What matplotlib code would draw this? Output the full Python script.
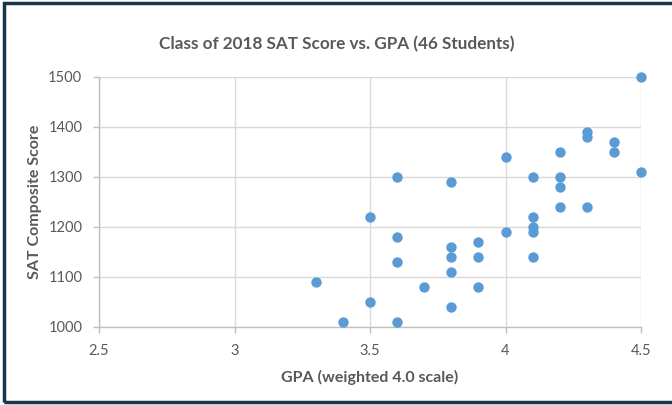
import matplotlib
matplotlib.use("Agg")
import matplotlib.pyplot as plt
from matplotlib.patches import Rectangle

gpa = [4.5, 4.3, 4.3, 4.4, 4.4, 4.2, 4.0, 4.5, 3.6, 4.1, 4.2, 3.8, 4.2, 4.2,
       4.3, 3.5, 4.1, 4.1, 4.1, 4.0, 3.6, 3.9, 3.8, 3.8, 3.9, 4.1, 3.6, 3.8,
       3.3, 3.7, 3.9, 3.5, 3.8, 3.4, 3.6]
sat = [1500, 1390, 1380, 1370, 1350, 1350, 1340, 1310, 1300, 1300, 1300, 1290,
       1280, 1240, 1240, 1220, 1220, 1200, 1190, 1190, 1180, 1170, 1160, 1140,
       1140, 1140, 1130, 1110, 1090, 1080, 1080, 1050, 1040, 1010, 1010]
x_ticks = [2.5, 3, 3.5, 4, 4.5]
x_tick_labels = ["2.5", "3", "3.5", "4", "4.5"]
y_ticks = [1000, 1100, 1200, 1300, 1400, 1500]

plt.rcParams['font.family'] = ['Lato', 'DejaVu Sans']
txt = '#595959'
grid = '#d9d9d9'

fig = plt.figure(figsize=(6.72, 4.05), dpi=100)
ax = fig.add_axes([99/672, 78/405, 542/672, 250/405])

ax.scatter(gpa, sat, s=56, color='#5B9BD5', zorder=3, linewidths=0, clip_on=False)
ax.set_xlim(2.5, 4.5)
ax.set_ylim(1000, 1500)
ax.set_xticks(x_ticks)
ax.set_xticklabels(x_tick_labels)
ax.set_yticks(y_ticks)
ax.grid(True, color=grid, linewidth=1)
ax.set_axisbelow(True)
for s in ['top', 'right']:
    ax.spines[s].set_visible(False)
for s in ['left', 'bottom']:
    ax.spines[s].set_color('#bfbfbf')
    ax.spines[s].set_linewidth(1)
ax.tick_params(axis='both', colors='#bfbfbf', labelcolor=txt, labelsize=10.5,
               length=4, width=1, direction='out')
ax.tick_params(axis='x', pad=8)
ax.tick_params(axis='y', pad=8)

ax.set_xlabel('GPA (weighted 4.0 scale)', fontsize=11.5, fontweight='bold', color=txt, labelpad=9)
ax.set_ylabel('SAT Composite Score', fontsize=11.5, fontweight='bold', color=txt)
ax.yaxis.set_label_coords((42 - 99) / 542, 0.5)
fig.text(337/672, 1 - 44/405, 'Class of 2018 SAT Score vs. GPA (46 Students)',
         ha='center', va='center', fontsize=12.3, fontweight='bold', color=txt)

fig.patches.append(Rectangle((4/672, 3/405), 1.0, 1 - 6/405, transform=fig.transFigure,
                             fill=False, edgecolor='#17364a', linewidth=2.5, zorder=10))

fig.savefig('out.png', dpi=100)
